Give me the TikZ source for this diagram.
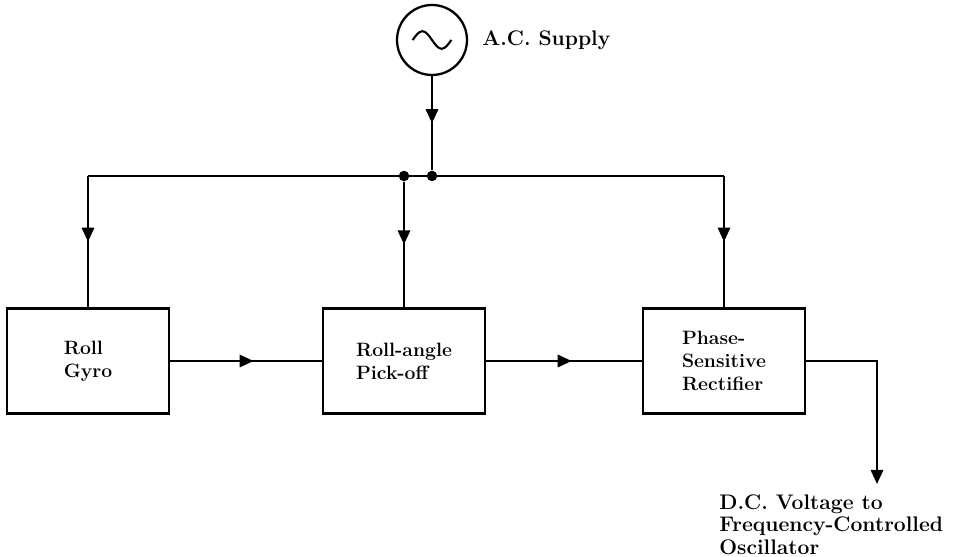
\documentclass[tikz,border=0pt]{standalone}
\usetikzlibrary{arrows.meta,decorations.markings}

\tikzset{
  block/.style={draw=black, line width=1.3pt, minimum width=3.24cm, minimum height=2.1cm,
    align=left, font=\fontsize{11}{13}\selectfont\bfseries},
  label/.style={inner sep=0pt, align=left, font=\fontsize{12}{12.8}\selectfont\bfseries},
  dot/.style={shape=circle, fill=black, inner sep=0pt, minimum size=6pt},
  wire/.style={line width=1.3pt},
  midarrow/.style={postaction={decorate}, decoration={markings,
    mark=at position #1 with {\arrow{Triangle[length=8pt,width=7pt]}}}},
  midarrow/.default=0.55
}

\begin{document}
\begin{tikzpicture}[x=0.02cm, y=-0.02cm]
    \useasboundingbox (0,0) rectangle (960,557);

    % supply
    \node[shape=circle, draw=black, line width=1.3pt, minimum size=1.4cm] (src) at (432,40) {};
    \draw[line width=1.2pt] ([xshift=-11pt]src.center) sin ++(5.5pt,5pt) cos ++(5.5pt,-5pt)
        sin ++(5.5pt,-5pt) cos ++(5.5pt,5pt);
    \node[label, anchor=west] (ac) at (482,40) {A.C. Supply};

    % blocks
    \node[block] (gyro) at (88,361) {Roll\\Gyro};
    \node[block] (pick) at (404,361) {Roll-angle\\Pick-off};
    \node[block] (rect) at (724,361) {Phase-\\Sensitive\\Rectifier};

    % supply bus
    \node[dot] (j1) at (404,176) {};
    \node[dot] (j2) at (432,176) {};
    \coordinate (bl) at (88,176);
    \coordinate (br) at (724,176);

    \draw[wire, midarrow=0.5] (src.south) -- (j2);
    \draw[wire] (bl) -- (br);
    \draw[wire, midarrow=0.5] (bl) -- (gyro.north);
    \draw[wire, midarrow=0.5] (j1) -- (pick.north);
    \draw[wire, midarrow=0.5] (br) -- (rect.north);

    % signal path
    \draw[wire, midarrow] (gyro.east) -- (pick.west);
    \draw[wire, midarrow] (pick.east) -- (rect.west);

    % output
    \coordinate (corner) at (877,361);
    \coordinate (tip) at (877,484);
    \draw[wire, -{Triangle[length=8pt,width=7pt]}] (rect.east) -- (corner) -- (tip);
    \node[label, anchor=north west] (dc) at (719,494) {D.C. Voltage to\\Frequency-Controlled\\Oscillator};

\end{tikzpicture}
\end{document}
